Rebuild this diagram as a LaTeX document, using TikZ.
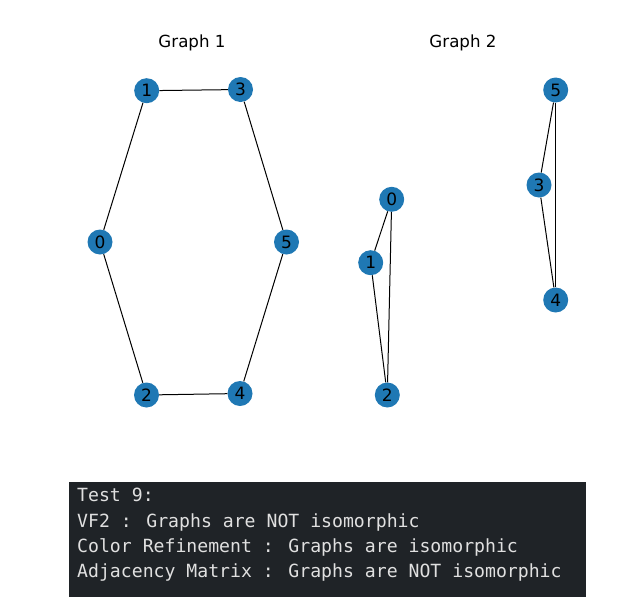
\documentclass[tikz,border=0pt]{standalone}
\usepackage{fontspec}
\setmainfont{DejaVu Sans}
\newfontfamily\codefont{DejaVu Sans Mono}
\definecolor{nodeblue}{HTML}{1F78B4}
\definecolor{boxbg}{HTML}{1F2327}
\definecolor{boxtext}{HTML}{E0E0E0}
\begin{document}
\begin{tikzpicture}[x=1pt,y=-1pt,
  vtx/.style={circle,fill=nodeblue,draw=none,minimum size=25pt,inner sep=0pt,
    font=\fontsize{17}{18}\selectfont},
  edge/.style={draw=black,line width=1pt},
  title/.style={font=\fontsize{16.67}{18}\selectfont},
  codeline/.style={anchor=base west,inner sep=0pt,text=boxtext,
    font=\codefont\fontsize{18.15}{20}\selectfont}]
\useasboundingbox (0,0) rectangle (640,600);
% titles
\node[title] (t1) at (192,43) {Graph 1};
\node[title] (t2) at (463,43) {Graph 2};
% Graph 1
\node[vtx] (a0) at (100,242) {0};
\node[vtx] (a1) at (146.7,90.7) {1};
\node[vtx] (a3) at (240.5,89.5) {3};
\node[vtx] (a5) at (286.5,242) {5};
\node[vtx] (a2) at (146.5,395) {2};
\node[vtx] (a4) at (240,393.5) {4};
% Graph 2
\node[vtx] (b0) at (391.7,199.3) {0};
\node[vtx] (b1) at (370.7,262.7) {1};
\node[vtx] (b2) at (387.3,395) {2};
\node[vtx] (b5) at (555.7,90) {5};
\node[vtx] (b3) at (539,185) {3};
\node[vtx] (b4) at (555.7,300) {4};
% edges
\draw[edge] (a0) -- (a1);
\draw[edge] (a1) -- (a3);
\draw[edge] (a3) -- (a5);
\draw[edge] (a5) -- (a4);
\draw[edge] (a4) -- (a2);
\draw[edge] (a2) -- (a0);
\draw[edge] (b0) -- (b1);
\draw[edge] (b0) -- (b2);
\draw[edge] (b1) -- (b2);
\draw[edge] (b5) -- (b3);
\draw[edge] (b5) -- (b4);
\draw[edge] (b3) -- (b4);
% output box
\fill[boxbg] (69,482) rectangle (586,597);
\node[codeline] (l1) at (77,501.3) {Test 9:};
\node[codeline] (l2) at (77,527) {VF2 : Graphs are NOT isomorphic};
\node[codeline] (l3) at (77,552.3) {Color Refinement : Graphs are isomorphic};
\node[codeline] (l4) at (77,577.5) {Adjacency Matrix : Graphs are NOT isomorphic};
\end{tikzpicture}
\end{document}
